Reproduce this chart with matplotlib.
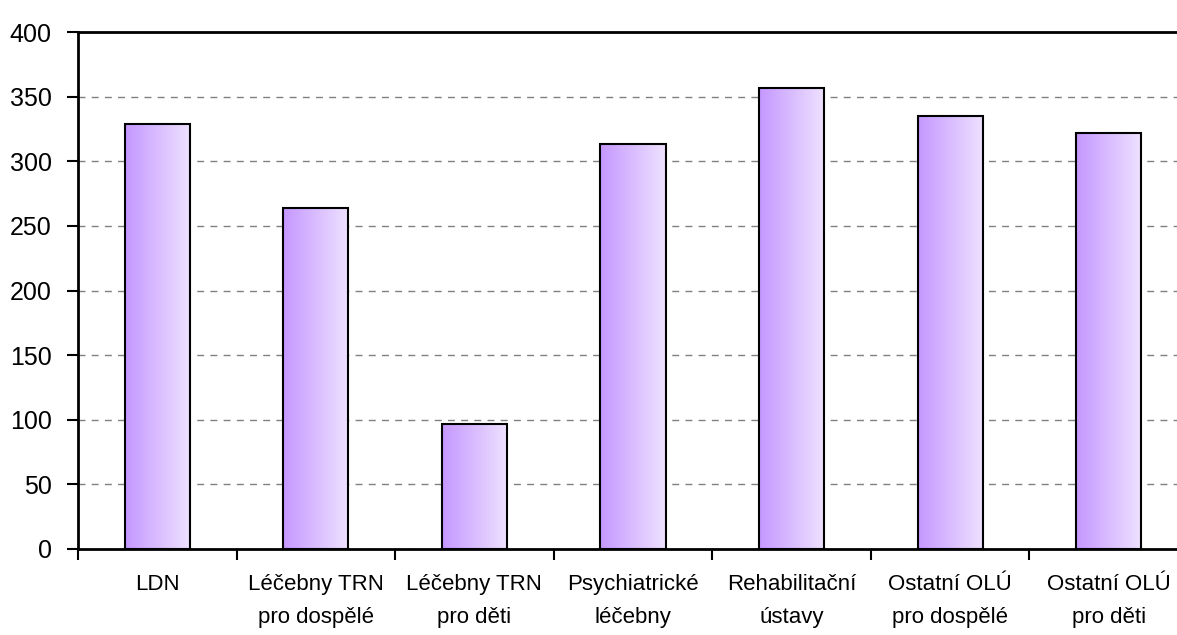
import numpy as np
import matplotlib
matplotlib.use("Agg")
import matplotlib.pyplot as plt
from matplotlib.colors import LinearSegmentedColormap
from matplotlib.ticker import FixedLocator

# Data
categories = ["LDN", "Léčebny TRN\npro dospělé", "Léčebny TRN\npro děti",
              "Psychiatrické\nléčebny", "Rehabilitační\nústavy",
              "Ostatní OLÚ\npro dospělé", "Ostatní OLÚ\npro děti"]
values = [329, 264, 97, 313, 357, 335, 322]
y_ticks = [0, 50, 100, 150, 200, 250, 300, 350, 400]

plt.rcParams['font.family'] = ['Liberation Sans', 'DejaVu Sans']

fig = plt.figure(figsize=(11.77, 6.35), dpi=100)
ax = fig.add_axes([78 / 1177, 86 / 635, 1110 / 1177, 517 / 635])

x = np.arange(len(categories))
bars = ax.bar(x, values, width=0.41, color='none', edgecolor='black',
              linewidth=1.5, zorder=3)

# horizontal gradient fill for each bar
cmap = LinearSegmentedColormap.from_list("lav", ["#c597ff", "#d9bdff", "#efe2ff"])
grad = np.linspace(0, 1, 256).reshape(1, -1)
for b in bars:
    x0, w, h = b.get_x(), b.get_width(), b.get_height()
    ax.imshow(grad, cmap=cmap, aspect='auto', extent=[x0, x0 + w, 0, h],
              zorder=2, interpolation='bicubic')

ax.set_xlim(-0.5, len(categories) - 0.5)
ax.set_ylim(0, 400)
ax.set_yticks(y_ticks)
ax.tick_params(axis='y', labelsize=18, length=8, width=1.5, pad=11)

ax.set_xticks(x)
ax.set_xticklabels(categories, fontsize=16, linespacing=1.72)
ax.xaxis.set_minor_locator(FixedLocator(np.arange(len(categories)) - 0.5))
ax.tick_params(axis='x', which='major', length=0, pad=18)
ax.tick_params(axis='x', which='minor', length=8, width=1.5)

ax.grid(axis='y', linestyle=(0, (5, 4.5)), color='#808080', linewidth=1, zorder=1)
for s in ax.spines.values():
    s.set_linewidth(2)
    s.set_color('black')

fig.savefig("out.png", dpi=100)
